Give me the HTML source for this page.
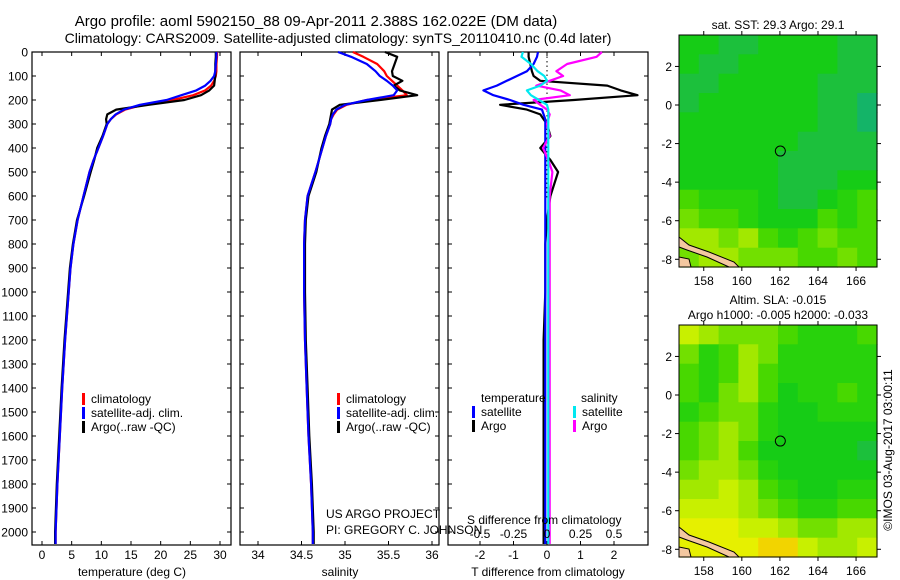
<!DOCTYPE html>
<html><head><meta charset="utf-8"><style>
html,body{margin:0;padding:0;background:#fff;}
svg{display:block;font-family:"Liberation Sans",sans-serif;}
</style></head><body>
<svg id="chart" width="900" height="580" viewBox="0 0 900 580" xmlns="http://www.w3.org/2000/svg">
<text x="316" y="26" font-size="15" text-anchor="middle">Argo profile: aoml 5902150_88 09-Apr-2011 2.388S 162.022E (DM data)</text>
<text x="338" y="43" font-size="14" text-anchor="middle">Climatology: CARS2009. Satellite-adjusted climatology: synTS_20110410.nc (0.4d later)</text>
<g id="g"></g>
</svg>
<script>
// ---------- profile data ----------
const depths     = [0,20,50,80,100,120,140,160,180,200,220,240,260,280,300,350,400,450,500,600,700,800,900,1000,1200,1400,1600,1800,2000,2050];
const tempClim   = [29.5,29.5,29.4,29.4,29.3,29.0,28.5,27.5,25.5,22.0,17.0,14.0,12.5,11.6,11.0,10.3,9.5,8.7,8.0,7.0,6.0,5.3,4.8,4.5,3.9,3.4,3.0,2.6,2.3,2.3];
const tempSat    = [29.4,29.4,29.3,29.2,29.0,28.4,27.5,26.0,23.5,21.0,16.5,13.8,12.4,11.6,11.0,10.3,9.5,8.7,8.0,7.0,6.0,5.3,4.8,4.5,3.9,3.4,3.0,2.6,2.3,2.3];
const tempArgo   = [29.3,29.3,29.2,29.2,29.2,29.1,29.0,28.2,26.8,24.0,18.0,12.5,11.0,10.8,10.9,10.2,9.3,8.8,8.2,7.1,5.9,5.2,4.7,4.4,3.8,3.3,2.9,2.5,2.2,2.2];
const salClim    = [35.09,35.21,35.37,35.45,35.48,35.54,35.6,35.66,35.71,35.25,35.02,34.91,34.87,34.84,34.83,34.78,34.74,34.7,34.66,34.57,34.54,34.53,34.53,34.53,34.54,34.56,34.58,34.61,34.63,34.63];
const salSat     = [34.92,35.07,35.25,35.35,35.4,35.48,35.55,35.6,35.56,35.25,35.0,34.9,34.86,34.84,34.83,34.78,34.74,34.7,34.66,34.57,34.54,34.53,34.53,34.53,34.54,34.56,34.58,34.61,34.63,34.63];
const salArgo    = [35.46,35.6,35.57,35.54,35.55,35.66,35.56,35.63,35.83,35.4,34.94,34.85,34.84,34.83,34.82,34.77,34.73,34.7,34.67,34.58,34.55,34.54,34.54,34.54,34.55,34.57,34.59,34.62,34.64,34.64];
const tDiffSat   = [-0.27,-0.3,-0.4,-0.6,-0.9,-1.2,-1.5,-1.9,-1.6,-1.1,-0.7,-0.15,-0.1,-0.05,-0.05,-0.05,-0.05,-0.05,-0.05,-0.05,-0.05,-0.05,-0.05,-0.05,-0.05,-0.05,-0.05,-0.05,-0.05,-0.05];
const tDiffArgo  = [-0.55,-0.55,-0.5,-0.45,-0.4,-0.2,1.8,2.2,2.7,0.8,-1.4,-0.6,-0.2,-0.1,0,0.1,-0.2,0.1,0.33,0.1,0,-0.05,-0.05,-0.05,-0.1,-0.1,-0.1,-0.1,-0.1,-0.1];
const sDiffSat   = [-0.18,-0.19,-0.12,-0.07,-0.02,0,-0.05,-0.15,-0.12,-0.06,0,0.01,0.01,0.01,0.01,0.01,0.01,0.01,0.01,0.01,0.01,0.01,0.01,0.01,0.01,0.01,0.01,0.01,0.01,0.01];
const sDiffArgo  = [0.41,0.37,0.15,0.07,0.12,0.02,-0.08,0.1,0.17,-0.1,-0.05,0.0,0.02,0.01,0.0,0.02,-0.03,0.01,0.04,0.02,0.02,0.02,0.02,0.02,0.02,0.02,0.02,0.02,0.02,0.02];
const depthTicks = [0,100,200,300,400,500,600,700,800,900,1000,1100,1200,1300,1400,1500,1600,1700,1800,1900,2000];
const tempTicks  = [0,5,10,15,20,25,30];
const salTicks   = [34,34.5,35,35.5,36];
const tdTicks    = [-2,-1,0,1,2];
const sdTicks    = [-0.5,-0.25,0,0.25,0.5];
// ---------- map data (colour class per ~1deg cell, rows north->south) ----------
const sstGrid = [
[2,2,1,1,2,2,2,2,1,1],[2,1,1,2,2,2,2,2,1,1],[1,1,2,2,2,2,2,1,1,1],[1,2,2,2,2,2,2,1,1,0],
[2,2,2,2,2,2,2,1,1,0],[2,2,2,2,2,2,1,1,1,1],[2,2,2,2,2,1,1,1,1,1],[2,2,2,2,2,1,1,1,2,2],
[4,3,3,3,2,1,1,2,3,4],[5,4,4,3,2,2,2,4,3,4],[6,6,5,6,4,3,4,5,4,4],[5,6,6,5,5,5,4,4,5,4]];
const slaGrid = [
[7,6,5,5,5,4,3,3,3,4],[5,3,4,6,5,3,3,3,3,3],[4,3,4,6,4,3,3,3,3,3],[4,3,5,6,4,2,3,3,4,3],
[3,4,5,5,3,2,2,3,3,3],[4,5,6,5,3,2,2,2,2,2],[4,5,6,4,2,2,2,2,2,1],[5,6,6,5,3,2,2,2,2,2],
[6,6,7,6,4,3,2,2,3,3],[7,7,7,6,5,4,3,3,4,4],[8,8,8,7,7,6,5,5,6,6],[8,8,8,8,9,9,7,6,6,7]];
const lonTicks = [158,160,162,164,166];
const latTicks = [2,0,-2,-4,-6,-8];
const floatLon = 162.022, floatLat = -2.388;
const palette = ['#14b468','#1cc03c','#16cc16','#28d20c','#48d800','#72e000','#a2e800','#c8f000','#e6f000','#f2d400'];

const NS="http://www.w3.org/2000/svg";
const G=document.getElementById('g');
function mk(tag,attrs,parent){const e=document.createElementNS(NS,tag);for(const k in attrs)e.setAttribute(k,attrs[k]);(parent||G).appendChild(e);return e;}
function txt(x,y,s,size,anchor,parent){const t=mk('text',{x:x,y:y,'font-size':size,'text-anchor':anchor||'middle'},parent);t.textContent=s;return t;}

const top0=52, bot0=545;
const yD=d=>top0+d*0.24;

function frame(g,x0,x1,leftLabels){
  const r=mk('rect',{x:x0,y:top0,width:x1-x0,height:bot0-top0,fill:'none',stroke:'#000','stroke-width':1.2},g);
  
  
  depthTicks.forEach(d=>{
    mk('line',{x1:x0,x2:x0+4,y1:yD(d),y2:yD(d),stroke:'#000'},g);
    mk('line',{x1:x1-4,x2:x1,y1:yD(d),y2:yD(d),stroke:'#000'},g);
    if(leftLabels){const t=txt(28,yD(d)+4.5,String(d),12,'end',g);
      
      }
  });
}
function xticks(g,xs,ticks,ly){
  ticks.forEach((v)=>{
    mk('line',{x1:xs(v),x2:xs(v),y1:bot0,y2:bot0-4,stroke:'#000'},g);
    mk('line',{x1:xs(v),x2:xs(v),y1:top0,y2:top0+4,stroke:'#000'},g);
    if(ly){const t=txt(xs(v),ly,String(v),12,'middle',g);
      
      }
  });
}
function line(g,xs,vals,color,name,w){
  let d='';vals.forEach((v,i)=>{d+=(i?'L':'M')+xs(v).toFixed(1)+','+yD(depths[i]).toFixed(1);});
  const p=mk('path',{d:d,fill:'none',stroke:color,'stroke-width':w||2.2,'stroke-linejoin':'round'},g);
  
  
}
function legend(g,x,y,color,label,name){
  mk('rect',{x:x,y:y-10,width:3,height:12,fill:color},g);
  const t=txt(x+9,y,label,12,'start',g);
  
  
}

// Panel 1 temperature
{const x0=32,x1=231;const xs=v=>42+v*(178/30);
 const g=mk('g',{});
 frame(g,x0,x1,true);xticks(g,xs,tempTicks,559);
 line(g,xs,tempClim,'#ff0000','temp-climatology-line');
 line(g,xs,tempArgo,'#000000','temp-argo-line');
 line(g,xs,tempSat,'#0000ff','temp-satellite-line');
 legend(g,82,403,'#ff0000','climatology','legend-climatology');
 legend(g,82,417,'#0000ff','satellite-adj. clim.','legend-satellite');
 legend(g,82,431,'#000000','Argo(..raw -QC)','legend-argo');
 const t=txt(132,576,'temperature (deg C)',12,'middle',g);}

// Panel 2 salinity
{const x0=240,x1=439;const xs=v=>258+(v-34)*87;
 const g=mk('g',{});
 frame(g,x0,x1,false);xticks(g,xs,salTicks,559);
 line(g,xs,salClim,'#ff0000','sal-climatology-line');
 line(g,xs,salArgo,'#000000','sal-argo-line');
 line(g,xs,salSat,'#0000ff','sal-satellite-line');
 legend(g,337,403,'#ff0000','climatology','legend-climatology');
 legend(g,337,417,'#0000ff','satellite-adj. clim.','legend-satellite');
 legend(g,337,431,'#000000','Argo(..raw -QC)','legend-argo');
 txt(326,518,'US ARGO PROJECT',12,'start',g);
 txt(326,534,'PI: GREGORY C. JOHNSON',12,'start',g);
 const t=txt(340,576,'salinity',12,'middle',g);}

// Panel 3 differences
{const x0=448,x1=648;const xt=v=>547+v*33.5;const xsd=v=>547+v*134;
 const g=mk('g',{});
 frame(g,x0,x1,false);xticks(g,xt,tdTicks,559);
 mk('line',{x1:547,x2:547,y1:top0,y2:200,stroke:'#000','stroke-dasharray':'1.5,3'},g);
 line(g,xt,tDiffArgo,'#000000','tdiff-argo-line');
 line(g,xt,tDiffSat,'#0000ff','tdiff-satellite-line');
 line(g,xsd,sDiffArgo,'#ff00ff','sdiff-argo-line');
 line(g,xsd,sDiffSat,'#00e8f0','sdiff-satellite-line');
 txt(481,402,'temperature',12,'start',g);
 txt(581,402,'salinity',12,'start',g);
 legend(g,472,416,'#0000ff','satellite','legend-t-satellite');
 legend(g,472,430,'#000000','Argo','legend-t-argo');
 legend(g,573,416,'#00e8f0','satellite','legend-s-satellite');
 legend(g,573,430,'#ff00ff','Argo','legend-s-argo');
 txt(467,524,'S difference from climatology',12,'start',g);
 sdTicks.forEach(v=>{const t=txt(xsd(v),538,String(v),12,'middle',g);});
 const t=txt(548,576,'T difference from climatology',12,'middle',g);}

// Maps
function map(name,grid,top,titleLines){
  const L=679,R=877,H=232;const lon0=156.7,lon1=167.1,lat0=3.63,lat1=-8.4;
  const xs=v=>L+(v-lon0)/(lon1-lon0)*(R-L);const ys=v=>top+(lat0-v)/(lat0-lat1)*H;
  const g=mk('g',{});
  const rows=grid.length,cols=grid[0].length;
  grid.forEach((row,i)=>row.forEach((c,j)=>{
    const r=mk('rect',{x:(L+j*(R-L)/cols).toFixed(1),y:(top+i*H/rows).toFixed(1),width:((R-L)/cols+0.6).toFixed(1),height:(H/rows+0.6).toFixed(1),fill:palette[c]},g);
    
    
  }));
  const coast=mk('path',{d:`M${L},${top+H-30} L${L+10},${top+H-22} L${L+30},${top+H-15} L${L+55},${top+H-5} L${L+60},${top+H} L${L+50},${top+H} L${L+28},${top+H-10} L${L+8},${top+H-17} L${L},${top+H-20} Z M${L},${top+H-10} L${L+10},${top+H-8} L${L+12},${top+H} L${L},${top+H} Z`,fill:'#f4c8a0',stroke:'#000','stroke-width':1},g);
  
  mk('rect',{x:L,y:top,width:R-L,height:H,fill:'none',stroke:'#000'},g);
  lonTicks.forEach(v=>{mk('line',{x1:xs(v),x2:xs(v),y1:top,y2:top-4,stroke:'#000'},g);mk('line',{x1:xs(v),x2:xs(v),y1:top+H,y2:top+H+4,stroke:'#000'},g);
    const t=txt(xs(v),top+H+18,String(v),12,'middle',g);});
  latTicks.forEach(v=>{mk('line',{x1:L,x2:L-4,y1:ys(v),y2:ys(v),stroke:'#000'},g);mk('line',{x1:R,x2:R+4,y1:ys(v),y2:ys(v),stroke:'#000'},g);
    const t=txt(672,ys(v)+4.5,String(v),12,'end',g);});
  const c=mk('circle',{cx:xs(floatLon),cy:ys(floatLat),r:5,fill:'none',stroke:'#000','stroke-width':1},g);
  
  titleLines.forEach((s,i)=>{const t=txt(778,top-(titleLines.length-i)*15+9,s,12,'middle',g);});
}
map('sst-map',sstGrid,35,['sat. SST: 29.3 Argo: 29.1']);
map('sla-map',slaGrid,325,['Altim. SLA: -0.015','Argo h1000: -0.005 h2000: -0.033']);
{const t=txt(0,0,'\u00A9IMOS 03-Aug-2017 03:00:11',12,'middle');t.setAttribute('transform','translate(892,450) rotate(-90)');
 }
</script>
</body></html>
